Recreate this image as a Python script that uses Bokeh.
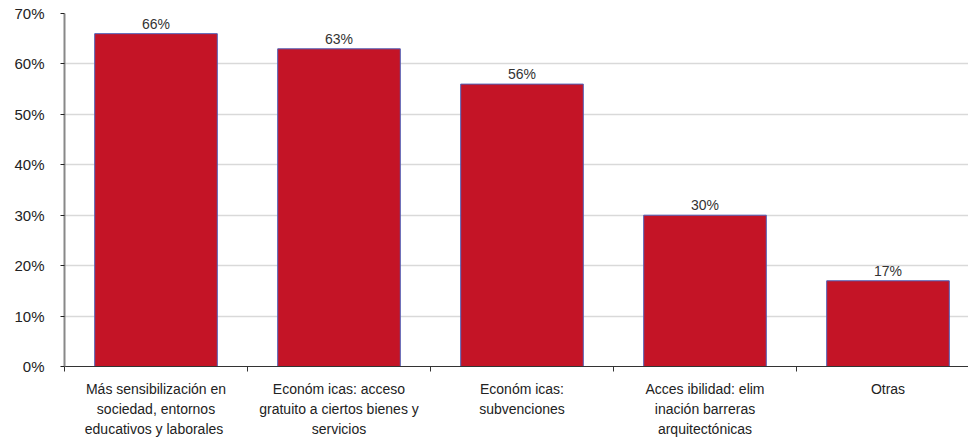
from bokeh.plotting import figure
from bokeh.models import Range1d, FixedTicker, ColumnDataSource, LabelSet, NumeralTickFormatter
from bokeh.core.properties import value
from bokeh.embed import file_html
from bokeh.resources import INLINE

categories = [
    "Más sensibilización en\nsociedad, entornos\neducativos  y laborales",
    "Económ icas: acceso\ngratuito a ciertos bienes y\nservicios",
    "Económ icas:\nsubvenciones",
    "Acces ibilidad: elim\ninación barreras\narquitectónicas",
    "Otras",
]
values = [0.66, 0.63, 0.56, 0.30, 0.17]
value_labels = ["66%", "63%", "56%", "30%", "17%"]
y_ticks = [0.0, 0.1, 0.2, 0.3, 0.4, 0.5, 0.6, 0.7]

xs = [i + 0.5 for i in range(len(categories))]
src = ColumnDataSource(dict(x=xs, top=values, lab=value_labels))

p = figure(width=968, height=440, output_backend="svg", toolbar_location=None,
           x_range=Range1d(0, 904 / 183.0), y_range=Range1d(0, 0.7),
           min_border_left=64, min_border_right=0, min_border_top=13, min_border_bottom=74)
p.outline_line_color = None
p.background_fill_color = "white"

p.vbar(x="x", top="top", width=0.67, bottom=0, source=src,
       fill_color="#C41426", line_color="#5060B8", line_width=1)

labels = LabelSet(x="x", y="top", text="lab", source=src, text_align="center",
                  text_baseline="bottom", y_offset=2, text_font=value("Liberation Sans"),
                  text_font_size="14px", text_color="#333333")
p.add_layout(labels)

# x axis
p.xaxis.ticker = FixedTicker(ticks=xs, minor_ticks=[0, 1, 2, 3, 4, 5])
p.xaxis.major_label_overrides = {x: c for x, c in zip(xs, categories)}
p.xaxis.major_tick_out = 0
p.xaxis.major_tick_in = 0
p.xaxis.minor_tick_out = 5
p.xaxis.minor_tick_in = 0
p.xaxis.minor_tick_line_color = "#333333"
p.xaxis.axis_line_color = "#333333"
p.xaxis.major_label_text_font = "Liberation Sans"
p.xaxis.major_label_text_font_size = "14px"
p.xaxis.major_label_text_color = "#222222"
p.xaxis.major_label_text_line_height = 1.27
p.xaxis.major_label_standoff = 9
p.xgrid.grid_line_color = None

# y axis
p.yaxis.ticker = FixedTicker(ticks=y_ticks, minor_ticks=[])
p.yaxis.formatter = NumeralTickFormatter(format="0%")
p.yaxis.major_tick_out = 4
p.yaxis.major_tick_in = 0
p.yaxis.major_tick_line_color = "#222222"
p.yaxis.axis_line_color = "#888888"
p.yaxis.axis_line_width = 2
p.yaxis.major_label_text_font = "Liberation Sans"
p.yaxis.major_label_text_font_size = "15px"
p.yaxis.major_label_text_color = "#222222"
p.yaxis.major_label_standoff = 16
p.ygrid.grid_line_color = "#d9d9d9"
p.ygrid.grid_line_width = 1.5

open("out.html", "w").write(file_html(p, INLINE))
